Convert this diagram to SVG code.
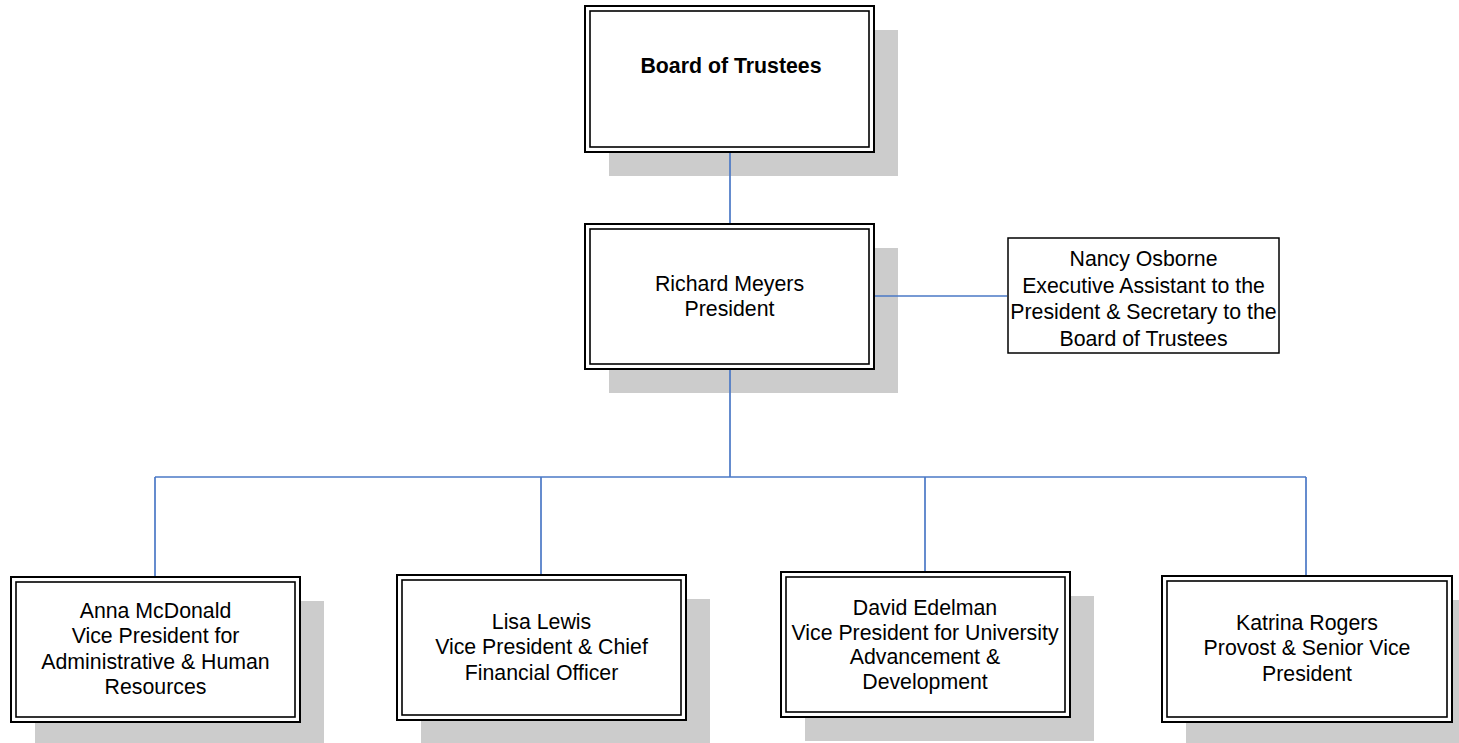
<svg xmlns="http://www.w3.org/2000/svg" width="1459" height="743" viewBox="0 0 1459 743">
<style>
.bg{fill:#ffffff}
.sh{fill:#cccccc;stroke:none}
.ob{fill:#ffffff;stroke:#000000;stroke-width:2}
.ib{fill:none;stroke:#000000;stroke-width:1.6}
.sb{fill:#ffffff;stroke:#000000;stroke-width:1.5}
.t{font-family:"Liberation Sans",Arial,sans-serif;font-size:21.3px;fill:#000000;text-anchor:middle}
.tb{font-weight:bold}
.c{stroke:#4a78c6;stroke-width:1.7;fill:none}
</style>
<rect class="bg" x="0" y="0" width="1459" height="743"/>
<g id="board">
<rect class="sh" x="609" y="30" width="289" height="146"/>
<rect class="ob" x="585" y="6" width="289" height="146"/>
<rect class="ib" x="590" y="11" width="279" height="136"/>
<text class="t tb" x="731" y="73">Board of Trustees</text>
</g>
<g id="president">
<rect class="sh" x="609" y="248" width="289" height="145"/>
<rect class="ob" x="585" y="224" width="289" height="145"/>
<rect class="ib" x="590" y="229" width="279" height="135"/>
<text class="t" x="729.5" y="290.5">Richard Meyers</text>
<text class="t" x="729.5" y="316">President</text>
</g>
<g id="nancy">
<rect class="sb" x="1008" y="238" width="271" height="115"/>
<text class="t" x="1143.5" y="266">Nancy Osborne</text>
<text class="t" x="1143.5" y="292.5">Executive Assistant to the</text>
<text class="t" x="1143.5" y="319">President &amp; Secretary to the</text>
<text class="t" x="1143.5" y="345.5">Board of Trustees</text>
</g>
<g id="anna">
<rect class="sh" x="35" y="601" width="289" height="145"/>
<rect class="ob" x="11" y="577" width="289" height="145"/>
<rect class="ib" x="16" y="582" width="279" height="135"/>
<text class="t" x="155.5" y="617.5">Anna McDonald</text>
<text class="t" x="155.5" y="643">Vice President for</text>
<text class="t" x="155.5" y="668.5">Administrative &amp; Human</text>
<text class="t" x="155.5" y="694">Resources</text>
</g>
<g id="lisa">
<rect class="sh" x="421" y="599" width="289" height="145"/>
<rect class="ob" x="397" y="575" width="289" height="145"/>
<rect class="ib" x="402" y="580" width="279" height="135"/>
<text class="t" x="541.5" y="628.5">Lisa Lewis</text>
<text class="t" x="541.5" y="654">Vice President &amp; Chief</text>
<text class="t" x="541.5" y="679.5">Financial Officer</text>
</g>
<g id="david">
<rect class="sh" x="805" y="596" width="289" height="145"/>
<rect class="ob" x="781" y="572" width="289" height="145"/>
<rect class="ib" x="786" y="577" width="279" height="135"/>
<text class="t" x="925" y="615">David Edelman</text>
<text class="t" x="925" y="639.5">Vice President for University</text>
<text class="t" x="925" y="664">Advancement &amp;</text>
<text class="t" x="925" y="688.5">Development</text>
</g>
<g id="katrina">
<rect class="sh" x="1186" y="600" width="290" height="146"/>
<rect class="ob" x="1162" y="576" width="290" height="146"/>
<rect class="ib" x="1167" y="581" width="280" height="136"/>
<text class="t" x="1307" y="629.5">Katrina Rogers</text>
<text class="t" x="1307" y="655">Provost &amp; Senior Vice</text>
<text class="t" x="1307" y="680.5">President</text>
</g>
<g id="connectors">
<line class="c" x1="730" y1="153" x2="730" y2="223"/>
<line class="c" x1="875" y1="296" x2="1007" y2="296"/>
<line class="c" x1="730" y1="370" x2="730" y2="477"/>
<line class="c" x1="155" y1="477" x2="1306" y2="477"/>
<line class="c" x1="155" y1="477" x2="155" y2="576"/>
<line class="c" x1="541" y1="477" x2="541" y2="574"/>
<line class="c" x1="925" y1="477" x2="925" y2="571"/>
<line class="c" x1="1306" y1="477" x2="1306" y2="575"/>
</g>
</svg>
